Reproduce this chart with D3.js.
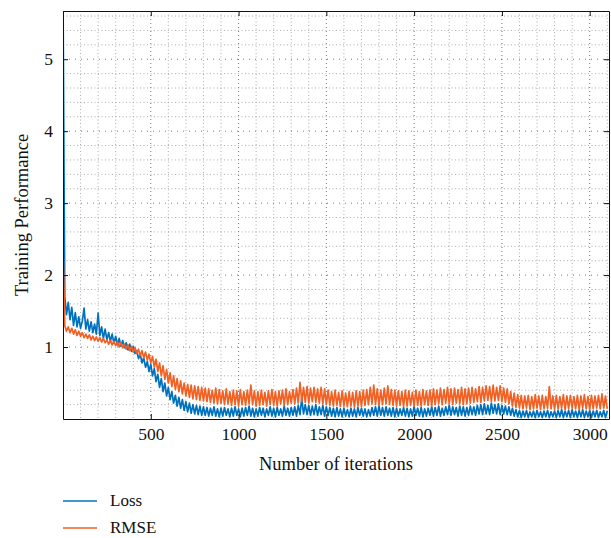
<!DOCTYPE html>
<html>
<head>
<meta charset="utf-8">
<script src="https://cdn.jsdelivr.net/npm/d3@7"></script>
<style>
  body { margin: 0; background: #fff; }
</style>
</head>
<body>
<div id="chart"></div>
<script>
const STEP = 10;
const seriesNames = ['Loss', 'RMSE'];
const xTicks = [500, 1000, 1500, 2000, 2500, 3000];
const yTicks = [1, 2, 3, 4, 5];

const lossValues = [
  5.90,
  1.70,1.45,1.62,1.38,1.55,1.30,1.48,1.28,1.42,1.26,
  1.36,1.54,1.25,1.38,1.22,1.35,1.20,1.32,1.18,1.47,
  1.16,1.28,1.12,1.25,1.10,1.20,1.08,1.18,1.05,1.15,
  1.03,1.12,1.01,1.09,0.99,1.06,0.96,1.04,0.94,1.01,
  0.91,0.95,0.84,0.90,0.78,0.85,0.72,0.80,0.66,0.76,
  0.60,0.70,0.52,0.62,0.44,0.56,0.38,0.50,0.32,0.44,
  0.27,0.38,0.22,0.33,0.18,0.30,0.15,0.27,0.12,0.24,
  0.10,0.22,0.08,0.20,0.07,0.19,0.06,0.18,0.05,0.17,
  0.05,0.16,0.04,0.15,0.05,0.17,0.04,0.14,0.03,0.15,
  0.04,0.16,0.05,0.14,0.03,0.15,0.04,0.17,0.05,0.14,
  0.03,0.15,0.04,0.16,0.05,0.18,0.04,0.15,0.03,0.14,
  0.04,0.16,0.05,0.15,0.03,0.14,0.05,0.17,0.04,0.15,
  0.03,0.16,0.05,0.14,0.04,0.18,0.05,0.15,0.04,0.16,
  0.05,0.17,0.04,0.19,0.06,0.29,0.07,0.20,0.06,0.19,
  0.05,0.18,0.06,0.20,0.05,0.17,0.06,0.19,0.04,0.17,
  0.05,0.16,0.04,0.15,0.03,0.16,0.04,0.14,0.03,0.15,
  0.04,0.13,0.03,0.15,0.04,0.14,0.03,0.16,0.05,0.15,
  0.04,0.14,0.03,0.13,0.04,0.16,0.05,0.17,0.04,0.18,
  0.05,0.16,0.04,0.17,0.05,0.15,0.04,0.16,0.03,0.15,
  0.04,0.14,0.05,0.16,0.04,0.15,0.03,0.14,0.04,0.17,
  0.05,0.15,0.04,0.16,0.03,0.14,0.04,0.15,0.05,0.17,
  0.04,0.16,0.05,0.18,0.04,0.15,0.05,0.17,0.06,0.19,
  0.05,0.17,0.06,0.16,0.04,0.18,0.05,0.17,0.04,0.16,
  0.05,0.18,0.06,0.17,0.05,0.19,0.07,0.20,0.06,0.21,
  0.07,0.19,0.06,0.22,0.08,0.20,0.07,0.21,0.06,0.19,
  0.07,0.18,0.06,0.17,0.05,0.15,0.04,0.13,0.03,0.12,
  0.02,0.11,0.03,0.12,0.02,0.10,0.03,0.11,0.02,0.12,
  0.03,0.10,0.02,0.11,0.03,0.12,0.02,0.10,0.03,0.11,
  0.02,0.12,0.03,0.13,0.02,0.11,0.03,0.12,0.02,0.13,
  0.03,0.11,0.02,0.12,0.03,0.13,0.02,0.11,0.03,0.12,
  0.02,0.11,0.03,0.12,0.02,0.10,0.03,0.12,0.02,0.11
];

const rmseValues = [
  2.38,
  1.30,1.22,1.28,1.20,1.26,1.18,1.24,1.16,1.22,1.15,
  1.20,1.13,1.18,1.12,1.17,1.10,1.15,1.09,1.14,1.08,
  1.13,1.07,1.12,1.06,1.10,1.04,1.09,1.03,1.08,1.02,
  1.07,1.00,1.06,0.99,1.04,0.97,1.03,0.95,1.01,0.93,
  0.99,0.91,0.97,0.88,0.95,0.85,0.93,0.82,0.90,0.78,
  0.87,0.72,0.83,0.66,0.78,0.60,0.74,0.55,0.69,0.50,
  0.64,0.45,0.60,0.41,0.56,0.38,0.53,0.35,0.50,0.32,
  0.48,0.30,0.47,0.28,0.46,0.27,0.45,0.26,0.44,0.25,
  0.43,
  0.24,0.42,0.23,0.40,0.22,0.43,0.21,0.41,0.22,0.39,
  0.20,0.42,0.21,0.38,0.19,0.40,0.20,0.39,0.18,0.41,
  0.20,0.38,0.19,0.40,0.21,0.47,0.20,0.39,0.18,0.38,
  0.19,0.40,0.20,0.37,0.18,0.39,0.20,0.41,0.19,0.38,
  0.18,0.39,0.21,0.40,0.19,0.42,0.20,0.38,0.22,0.41,
  0.21,0.43,0.22,0.51,0.24,0.44,0.23,0.45,0.22,0.43,
  0.24,0.44,0.23,0.42,0.22,0.44,0.21,0.42,0.20,0.40,
  0.19,0.38,0.18,0.40,0.19,0.37,0.17,0.39,0.18,0.36,
  0.17,0.38,0.18,0.37,0.16,0.39,0.18,0.38,0.17,0.40,
  0.19,0.41,0.20,0.44,0.21,0.47,0.20,0.42,0.19,0.40,
  0.20,0.43,0.21,0.46,0.20,0.41,0.19,0.40,0.18,0.39,
  0.19,0.38,0.17,0.40,0.18,0.39,0.19,0.37,0.18,0.40,
  0.19,0.38,0.18,0.41,0.20,0.39,0.19,0.40,0.18,0.42,
  0.20,0.40,0.21,0.43,0.20,0.41,0.22,0.44,0.21,0.42,
  0.20,0.43,0.22,0.41,0.21,0.44,0.20,0.42,0.21,0.43,
  0.22,0.44,0.23,0.42,0.24,0.45,0.23,0.44,0.25,0.46,
  0.26,0.45,0.24,0.47,0.25,0.44,0.26,0.46,0.24,0.43,
  0.23,0.42,0.21,0.38,0.18,0.36,0.16,0.34,0.15,0.33,
  0.14,0.32,0.15,0.33,0.13,0.31,0.14,0.34,0.15,0.32,
  0.13,0.33,0.14,0.31,0.15,0.45,0.14,0.32,0.13,0.33,
  0.14,0.31,0.15,0.34,0.13,0.32,0.14,0.33,0.15,0.31,
  0.14,0.33,0.13,0.32,0.15,0.34,0.14,0.31,0.13,0.33,
  0.14,0.32,0.15,0.33,0.14,0.35,0.15,0.32,0.14
];

const colors = { Loss: '#0072BD', RMSE: '#F26124' };
const FONT = '"Liberation Serif", "DejaVu Serif", serif';

function drawChart() {
  const W = 611, H = 538;
  const left = 63, right = 609, top = 11, bottom = 419;

  const svg = d3.select('#chart').append('svg')
    .attr('width', W).attr('height', H)
    .style('font-family', FONT);

  const x = d3.scaleLinear().domain([0, 3110]).range([left, right]);
  const y = d3.scaleLinear().domain([0, 5.67]).range([bottom, top]);

  // grid: minor (dense dots) and major (sparse dots)
  const grid = svg.append('g');
  const xMinor = d3.range(100, 3110, 100).filter(v => v % 500 !== 0);
  const yMinor = d3.range(0.2, 5.67, 0.2).filter(v => Math.abs(v - Math.round(v)) > 0.01);

  grid.selectAll('.xminor').data(xMinor).enter().append('line')
    .attr('x1', d => x(d)).attr('x2', d => x(d)).attr('y1', top).attr('y2', bottom)
    .attr('stroke', '#999').attr('stroke-width', 0.8).attr('stroke-dasharray', '1,2.5');
  grid.selectAll('.yminor').data(yMinor).enter().append('line')
    .attr('y1', d => y(d)).attr('y2', d => y(d)).attr('x1', left).attr('x2', right)
    .attr('stroke', '#999').attr('stroke-width', 0.8).attr('stroke-dasharray', '1,2.5');
  grid.selectAll('.xmajor').data(xTicks).enter().append('line')
    .attr('x1', d => x(d)).attr('x2', d => x(d)).attr('y1', top).attr('y2', bottom)
    .attr('stroke', '#555').attr('stroke-width', 0.8).attr('stroke-dasharray', '1,3');
  grid.selectAll('.ymajor').data(yTicks).enter().append('line')
    .attr('y1', d => y(d)).attr('y2', d => y(d)).attr('x1', left).attr('x2', right)
    .attr('stroke', '#555').attr('stroke-width', 0.8).attr('stroke-dasharray', '1,5');

  // data lines
  svg.append('clipPath').attr('id', 'plot-clip')
    .append('rect').attr('x', left).attr('y', top)
    .attr('width', right - left).attr('height', bottom - top);

  const line = d3.line()
    .x((d, i) => x(i * STEP))
    .y(d => y(d));

  const plot = svg.append('g').attr('clip-path', 'url(#plot-clip)');
  [['Loss', lossValues], ['RMSE', rmseValues]].forEach(([name, vals]) => {
    plot.append('path')
      .datum(vals)
      .attr('fill', 'none')
      .attr('stroke', colors[name])
      .attr('stroke-width', 1.7)
      .attr('stroke-linejoin', 'round')
      .attr('d', line);
  });

  // axes (ticks pointing inwards, box around plot)
  const axisStyle = g => {
    g.attr('font-family', FONT);
    g.select('.domain').attr('stroke', '#111').attr('stroke-width', 1);
    g.selectAll('.tick line').attr('stroke', '#111').attr('stroke-width', 1);
    g.selectAll('text').style('font-size', '17.5px').style('font-family', FONT).attr('fill', '#111');
  };

  svg.append('g')
    .attr('transform', `translate(0, ${bottom})`)
    .call(d3.axisBottom(x).tickValues(xTicks).tickFormat(d3.format('d'))
      .tickSizeInner(-5).tickSizeOuter(0).tickPadding(9))
    .call(axisStyle);
  svg.append('g')
    .attr('transform', `translate(0, ${top})`)
    .call(d3.axisTop(x).tickValues(xTicks).tickSizeInner(-5).tickSizeOuter(0).tickFormat(''))
    .call(axisStyle);
  svg.append('g')
    .attr('transform', `translate(${left}, 0)`)
    .call(d3.axisLeft(y).tickValues(yTicks).tickFormat(d3.format('d'))
      .tickSizeInner(-5).tickSizeOuter(0).tickPadding(10))
    .call(axisStyle);
  svg.append('g')
    .attr('transform', `translate(${right}, 0)`)
    .call(d3.axisRight(y).tickValues(yTicks).tickSizeInner(-5).tickSizeOuter(0).tickFormat(''))
    .call(axisStyle);

  // axis titles
  svg.append('text')
    .attr('x', (left + right) / 2).attr('y', 470)
    .attr('text-anchor', 'middle')
    .attr('fill', '#111')
    .style('font-size', '18.5px')
    .text('Number of iterations');
  svg.append('text')
    .attr('transform', `translate(28, ${(top + bottom) / 2}) rotate(-90)`)
    .attr('text-anchor', 'middle')
    .attr('fill', '#111')
    .style('font-size', '18.5px')
    .text('Training Performance');

  // legend
  const legend = svg.append('g');
  seriesNames.forEach((name, i) => {
    const ly = 501 + i * 27;
    legend.append('line')
      .attr('x1', 63).attr('x2', 97).attr('y1', ly).attr('y2', ly)
      .attr('stroke', colors[name]).attr('stroke-width', 1.3);
    legend.append('text')
      .attr('x', 110).attr('y', ly + 5)
      .attr('fill', '#111')
      .style('font-size', '17px')
      .text(name);
  });
}

drawChart();
</script>
</body>
</html>
